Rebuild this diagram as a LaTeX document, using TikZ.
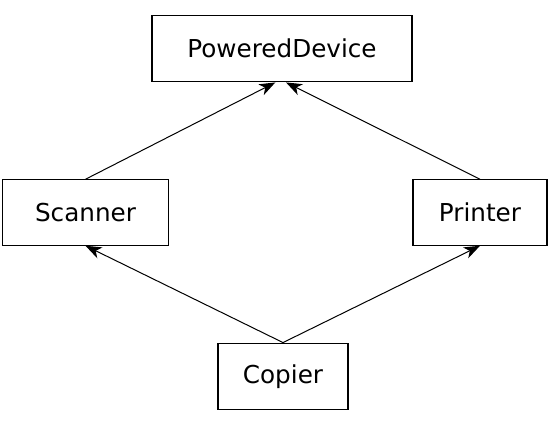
\documentclass[tikz,border=0pt]{standalone}
\usepackage{fontspec}
\setmainfont{DejaVu Sans}
\usetikzlibrary{arrows.meta}

\begin{document}
\begin{tikzpicture}[
  x=0.75pt, y=-0.75pt,
  every node/.style={rectangle, draw, line width=0.9pt, inner sep=0pt,
    minimum height=49pt, font=\fontsize{18.5}{22}\selectfont},
  inherit/.style={-{Stealth[length=12pt, width=9pt, inset=3.5pt]}, line width=0.75pt}
  ]
  \useasboundingbox (0,0) rectangle (560,432);

  % Define nodes
  \node[minimum width=195pt, minimum height=50pt] (PD) at (282,48.5) {PoweredDevice};
  \node[minimum width=124pt] (Scanner) at (85.5,212.5) {Scanner};
  \node[minimum width=100.5pt] (Printer) at (480,212.5) {Printer};
  \node[minimum width=97.5pt, minimum height=50pt] (Copier) at (283,376.5) {Copier};

  % Draw arrows
  \draw[inherit] (Scanner.north) -- ([xshift=-5pt]PD.south);
  \draw[inherit] (Printer.north) -- ([xshift=3pt]PD.south);
  \draw[inherit] (Copier.north) -- (Scanner.south);
  \draw[inherit] (Copier.north) -- (Printer.south);
\end{tikzpicture}
\end{document}
